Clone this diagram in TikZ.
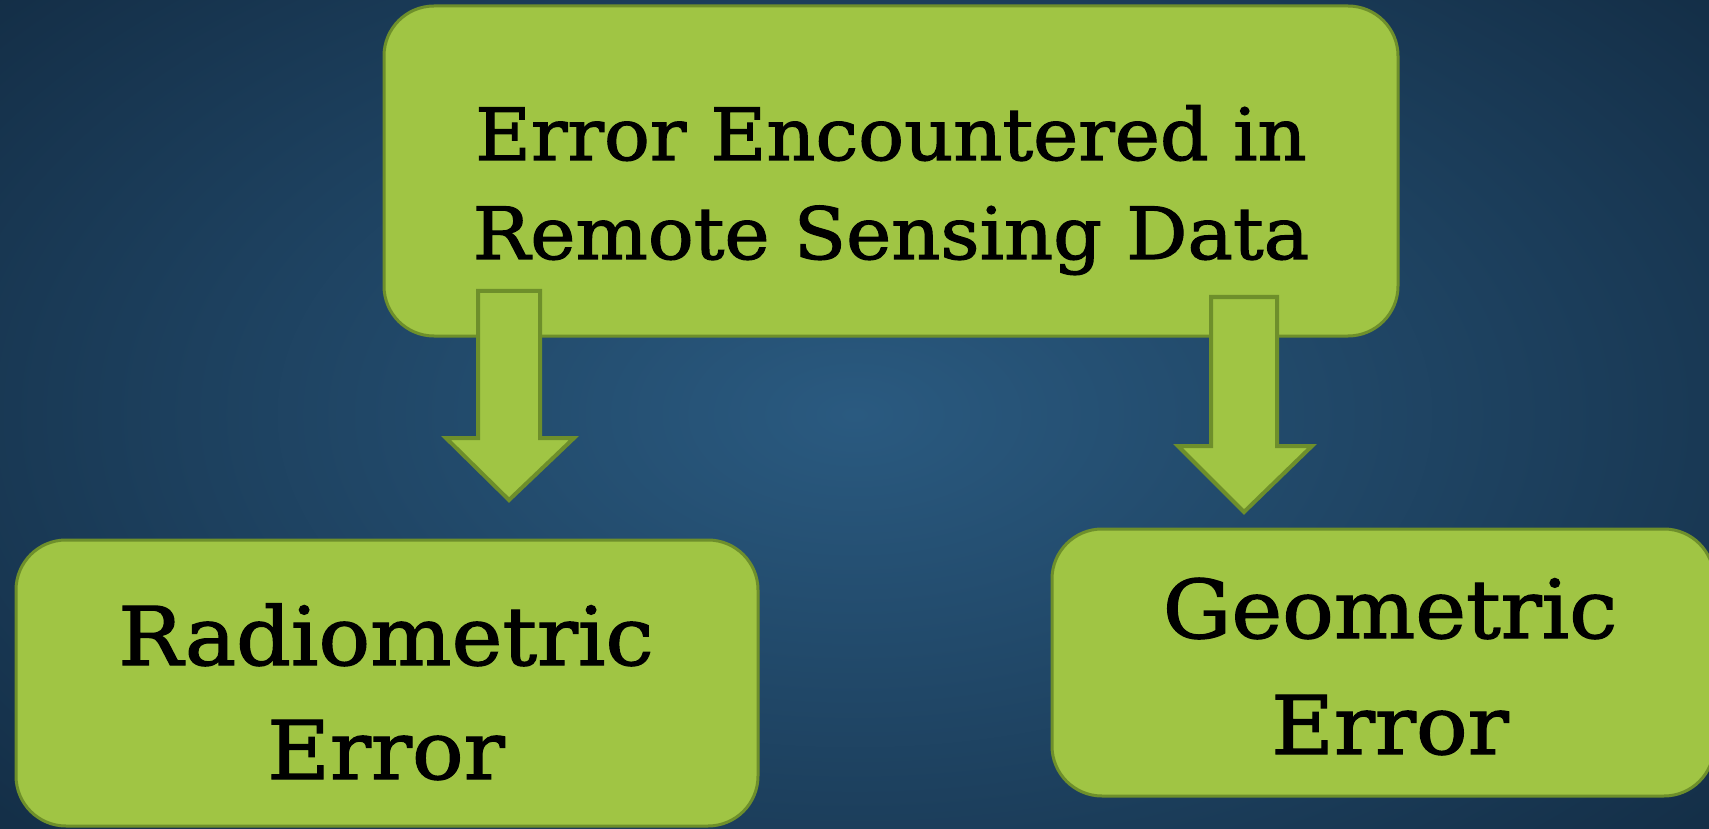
\documentclass[tikz,border=0pt]{standalone}
\usepackage{fontspec}
\setmainfont{DejaVu Serif}[FakeStretch=1.06,FakeBold=1.6]
\definecolor{boxfill}{HTML}{A0C544}
\definecolor{boxline}{HTML}{6E8F2B}
\definecolor{bginner}{HTML}{2A5A80}
\definecolor{bgouter}{HTML}{132D45}
\tikzset{
  greenbox/.style={draw=boxline, line width=3pt, fill=boxfill, rounded corners=50pt, inner sep=0pt},
  blockarrow/.style={draw=boxline, line width=4pt, fill=boxfill, line join=miter},
  toptext/.style={anchor=base, inner sep=0pt, font=\fontsize{72}{72}\selectfont},
  bottext/.style={anchor=base, inner sep=0pt, font=\fontsize{81}{81}\selectfont}
}
\begin{document}
\begin{tikzpicture}[x=1pt,y=-1pt]
\useasboundingbox (0,0) rectangle (1709,829);
\shade[inner color=bginner, outer color=bgouter] (-300,-250) rectangle (2009,1079);
% boxes
\node[greenbox, minimum width=1014pt, minimum height=330pt] (top) at (891,171) {};
\node[greenbox, minimum width=742pt, minimum height=286pt] (rad) at (387,683) {};
\node[greenbox, minimum width=662pt, minimum height=267pt] (geo) at (1383,662.5) {};
% block arrows
\draw[blockarrow] (478,291) -- (540,291) -- (540,438) -- (574,438) -- (509,500) -- (446,438) -- (478,438) -- cycle;
\draw[blockarrow] (1211,297) -- (1277,297) -- (1277,446) -- (1312,446) -- (1244,512) -- (1178,446) -- (1211,446) -- cycle;
% texts
\node[toptext] (t1) at (891,160) {Error Encountered in};
\node[toptext] (t2) at (891,259) {Remote Sensing Data};
\node[bottext] (r1) at (386,665) {Radiometric};
\node[bottext] (r2) at (386,779) {Error};
\node[bottext] (g1) at (1390,638) {Geometric};
\node[bottext] (g2) at (1390,754) {Error};
\end{tikzpicture}
\end{document}
